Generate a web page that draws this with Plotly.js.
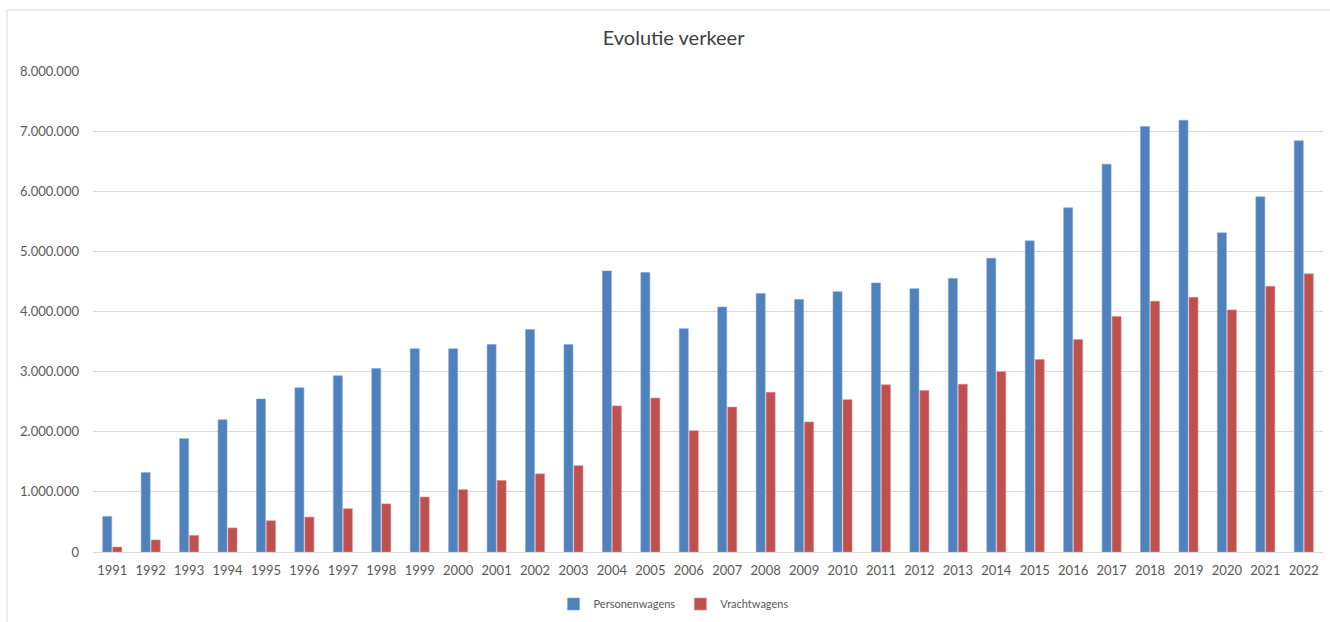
<!DOCTYPE html>
<html>
<head>
<meta charset="utf-8">
<script src="https://cdn.plot.ly/plotly-3.0.1.min.js"></script>
<style>
  html, body { margin: 0; padding: 0; background: #ffffff; }
  #chart { width: 1330px; height: 622px; }
</style>
</head>
<body>
<div id="chart"></div>
<script>
const years = ["1991","1992","1993","1994","1995","1996","1997","1998","1999","2000","2001","2002","2003","2004","2005","2006","2007","2008","2009","2010","2011","2012","2013","2014","2015","2016","2017","2018","2019","2020","2021","2022"];
const personenwagens = [590000,1320000,1885000,2200000,2545000,2730000,2930000,3050000,3380000,3380000,3450000,3700000,3450000,4675000,4647000,3715000,4076000,4300000,4198000,4330000,4476000,4380000,4550000,4885000,5175000,5724000,6450000,7077000,7180000,5308000,5907000,6840000];
const vrachtwagens = [83000,200000,276000,400000,520000,580000,720000,800000,915000,1037000,1190000,1300000,1436000,2430000,2560000,2018000,2410000,2655000,2163000,2534000,2780000,2684000,2790000,3000000,3200000,3535000,3915000,4170000,4236000,4027000,4420000,4626000];
const seriesNames = ["Personenwagens","Vrachtwagens"];
const yTicks = [0,1000000,2000000,3000000,4000000,5000000,6000000,7000000,8000000];

const font = "Lato, 'Open Sans', 'Noto Sans', sans-serif";
const traces = [
  {type:"bar", name:seriesNames[0], x:years, y:personenwagens,
   marker:{color:"#4F81BD", line:{color:"#7FA3D4", width:0.6}}},
  {type:"bar", name:seriesNames[1], x:years, y:vrachtwagens,
   marker:{color:"#C0504D", line:{color:"#D98A88", width:0.6}}}
];
const layout = {
  width:1330, height:622,
  margin:{l:93, r:7, t:71, b:70, autoexpand:false},
  paper_bgcolor:"#ffffff", plot_bgcolor:"#ffffff",
  separators:",.",
  font:{family:font, color:"#595959", size:13},
  title:{text:"Evolutie verkeer", font:{family:font, size:20, color:"#404040"},
         xref:"paper", x:0.472, xanchor:"center", yref:"container", y:1-38/622, yanchor:"middle"},
  barmode:"group", bargap:0.48, bargroupgap:0.1,
  xaxis:{type:"category", showgrid:false, showline:true, linecolor:"#D9D9D9", linewidth:1,
         ticks:"", ticklabelstandoff:6, tickfont:{size:13, color:"#595959"}, zeroline:false},
  yaxis:{range:[0,8000000], tickvals:yTicks, tickformat:",d", showgrid:true, gridcolor:"#D9D9D9",
         gridwidth:1, zeroline:false, showline:false, ticks:"", ticklabelstandoff:13,
         tickfont:{size:13, color:"#595959"}},
  showlegend:true,
  legend:{orientation:"h", x:0.472, xanchor:"center", yref:"container", y:1-604/622, yanchor:"middle",
          font:{size:11, color:"#595959"}, itemwidth:30, traceorder:"normal"},
  shapes:[
    {type:"line", xref:"paper", yref:"paper", x0:-0.0699, x1:1.01, y0:542/481, y1:542/481,
     line:{color:"#D9D9D9", width:1}},
    {type:"line", xref:"paper", yref:"paper", x0:-0.0699, x1:-0.0699, y0:542/481, y1:-0.2,
     line:{color:"#D9D9D9", width:1}}
  ]
};
Plotly.newPlot("chart", traces, layout, {displayModeBar:false, staticPlot:true});
</script>
</body>
</html>
